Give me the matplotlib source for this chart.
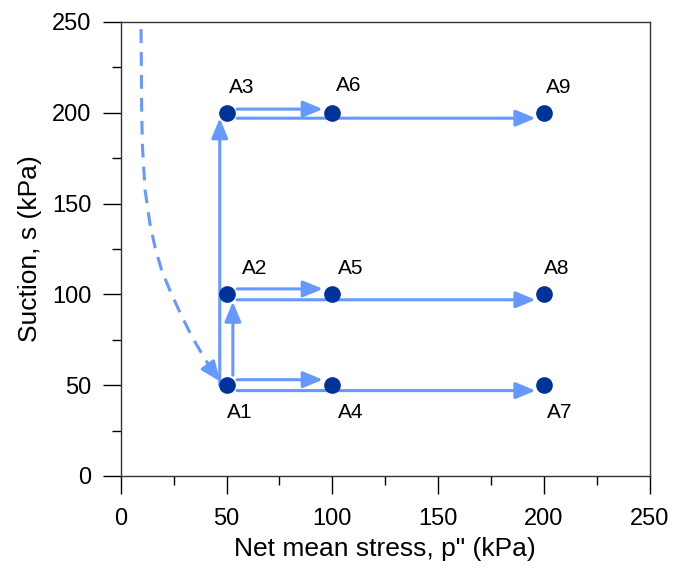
import numpy as np
import matplotlib.pyplot as plt

# 试验点
names = ["A1", "A2", "A3", "A4", "A5", "A6", "A7", "A8", "A9"]
p_net = [50, 50, 50, 100, 100, 100, 200, 200, 200]
suction = [50, 100, 200, 50, 100, 200, 50, 100, 200]

# 标签位置
label_p = [56, 63.5, 57, 108.5, 108.5, 107.5, 207.5, 206, 207]
label_s = [35, 114, 214, 35, 114, 215, 35, 114.5, 214]

# 应力路径箭头 (起点 -> 终点)
arrow_p0 = [55, 55, 55, 55, 55, 55, 53, 46.8]
arrow_s0 = [53, 47, 103, 97, 202, 197, 55.5, 50]
arrow_p1 = [95.5, 196, 95.5, 196, 95.5, 196, 53, 46.8]
arrow_s1 = [53, 47, 103, 97, 202, 197, 96, 197]

# 虚线 (干燥路径)
curve_p = [9.6, 9.8, 9.9, 10.3, 11.5, 13.8, 16.2, 19.4, 23.3, 28, 33.5, 39, 43.8, 47]
curve_s = [246, 220, 200, 181, 157.5, 139, 126, 113, 102, 90, 77, 66, 57, 52]

ARROW_C = "#6699FF"
POINT_C = "#003399"

plt.rcParams['font.family'] = ['Liberation Sans', 'DejaVu Sans']

fig = plt.figure(figsize=(6.74, 5.70), dpi=100)
ax = fig.add_axes([0.1791, 0.165, 0.785, 0.7965])

ax.plot(curve_p[:-1], curve_s[:-1], color=ARROW_C, lw=2.2, dashes=(4.5, 3))
ax.annotate("", xy=(curve_p[-1], curve_s[-1]), xytext=(curve_p[-2], curve_s[-2]),
            arrowprops=dict(arrowstyle="-|>,head_length=0.6,head_width=0.25",
                            mutation_scale=20, color=ARROW_C, lw=2.2,
                            shrinkA=0, shrinkB=0))

for x0, y0, x1, y1 in zip(arrow_p0, arrow_s0, arrow_p1, arrow_s1):
    ax.annotate("", xy=(x1, y1), xytext=(x0, y0),
                arrowprops=dict(arrowstyle="-|>,head_length=0.6,head_width=0.25",
                                mutation_scale=20, color=ARROW_C, lw=2.2,
                                shrinkA=0, shrinkB=0))

ax.plot(p_net, suction, 'o', color=POINT_C, markersize=11, zorder=5)

for n, x, y in zip(names, label_p, label_s):
    ax.text(x, y, n, fontsize=15, ha='center', va='center')

ax.set_xlim(0, 250)
ax.set_ylim(0, 250)
ax.set_xticks(np.arange(0, 251, 50))
ax.set_yticks(np.arange(0, 251, 50))
ax.set_xticks(np.arange(25, 250, 50), minor=True)
ax.set_yticks(np.arange(25, 250, 50), minor=True)
ax.tick_params(which='major', direction='out', length=13, width=1, labelsize=17)
ax.tick_params(axis='x', which='major', pad=10)
ax.tick_params(axis='y', which='major', pad=8)
ax.tick_params(which='minor', direction='out', length=6.5, width=1)
for sp in ax.spines.values():
    sp.set_linewidth(1)
    sp.set_color("#333333")

ax.set_xlabel('Net mean stress, p" (kPa)', fontsize=19, labelpad=5)
ax.set_ylabel('Suction, s (kPa)', fontsize=19, labelpad=7)

fig.savefig("out.png", dpi=100)
